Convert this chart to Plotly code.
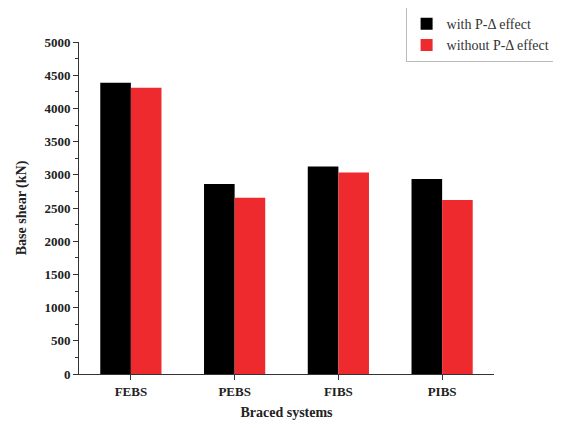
import plotly.graph_objects as go

categories = ["FEBS", "PEBS", "FIBS", "PIBS"]
with_pdelta = [4385, 2860, 3125, 2935]
without_pdelta = [4310, 2655, 3035, 2620]
series_names = ["with P-Δ effect", "without P-Δ effect"]

font_family = "Liberation Serif"

fig = go.Figure()
fig.add_trace(go.Bar(x=categories, y=with_pdelta, name=series_names[0],
                     marker=dict(color="#000000", line=dict(width=0))))
fig.add_trace(go.Bar(x=categories, y=without_pdelta, name=series_names[1],
                     marker=dict(color="#ee2a2e", line=dict(width=0))))

# page body has an 8px margin, so the figure is sized/offset to compensate
fig.update_layout(
    width=553, height=420,
    margin=dict(l=71, r=67, t=34, b=54, autoexpand=False),
    paper_bgcolor="white", plot_bgcolor="white",
    barmode="group", bargap=0.41, bargroupgap=0,
    font=dict(family=font_family, color="#222222", size=13),
    legend=dict(x=0.787, y=1.105, xanchor="left", yanchor="top",
                bordercolor="#bbbbbb", borderwidth=1, bgcolor="white",
                font=dict(size=14, family=font_family, color="#333333"), tracegroupgap=0,
                itemwidth=30),
    showlegend=True,
)
fig.update_xaxes(
    showline=True, linecolor="#333333", linewidth=1,
    ticks="outside", ticklen=5, tickcolor="#333333",
    tickfont=dict(size=13, family=font_family, weight="bold"),
    range=[-0.5, 3.5], showgrid=False, automargin=False,
    title=dict(text="<b>Braced systems</b>", font=dict(size=14, family=font_family), standoff=9),
)
fig.update_yaxes(
    range=[0, 5000], dtick=500, showgrid=False, zeroline=False,
    showline=True, linecolor="#333333", linewidth=1,
    ticks="outside", ticklen=5, tickcolor="#333333", automargin=False,
    minor=dict(dtick=250, ticks="outside", ticklen=3, tickcolor="#333333"),
    tickfont=dict(size=13, family=font_family, weight="bold"),
    title=dict(text="<b>Base shear (kN)</b>", font=dict(size=14, family=font_family), standoff=14),
)

fig.write_html("out.html")
